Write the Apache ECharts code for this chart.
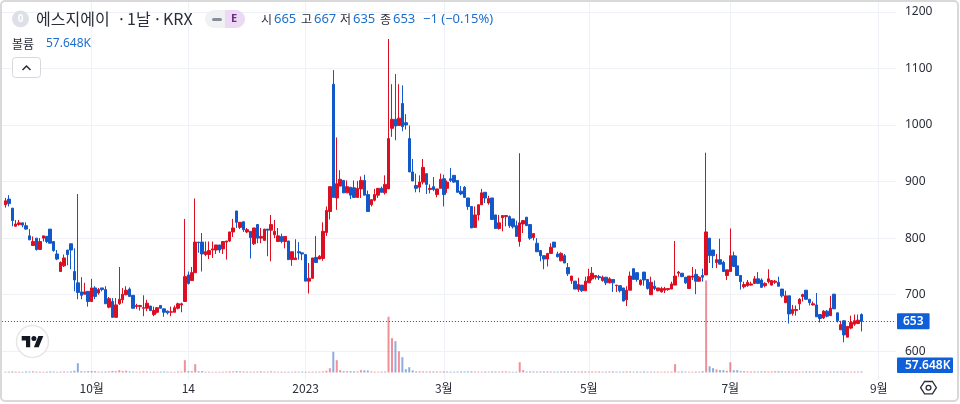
<!DOCTYPE html>
<html><head><meta charset="utf-8">
<style>html,body{margin:0;padding:0;background:#fff}#c{width:960px;height:404px}</style>
<script src="https://cdn.jsdelivr.net/npm/echarts@6/dist/echarts.min.js"></script>
</head><body><div id="c"></div>
<script>
const opens=[859,869,853,821,824,827,822,804,787,800,
780,800,803,816,794,772,741,751,779,790,
741,721,705,701,706,688,712,703,712,709,
678,688,660,684,691,700,710,699,679,679,
676,676,680,665,669,681,675,671,669,669,
676,682,688,735,725,739,793,793,771,771,
779,779,788,781,793,795,811,848,819,829,
811,812,790,824,800,796,816,814,806,794,
803,794,795,762,762,776,774,771,724,729,
766,763,764,810,847,1072,871,892,902,880,
890,889,872,887,902,877,859,867,876,888,
880,887,994,1010,999,1038,1004,976,917,893,
890,899,914,886,891,877,888,905,888,905,
911,902,883,890,871,856,819,841,859,881,
862,871,841,817,836,838,838,834,822,794,
825,837,824,801,791,778,769,763,773,793,
772,760,769,748,725,724,709,717,707,721,
728,731,732,725,731,721,727,716,716,712,
691,708,746,739,718,740,727,700,715,707,
705,708,709,710,717,738,738,731,711,731,
736,724,734,735,800,779,757,762,757,734,
741,769,751,734,714,716,717,720,728,726,
716,723,717,722,722,710,686,698,667,672,
684,697,708,692,682,682,665,659,671,663,
701,668,638,654,625,641,648,649,665];
const closes=[866,861,831,825,827,823,816,797,794,780,
794,804,794,791,778,763,757,765,771,779,
726,704,699,705,688,712,697,709,709,684,
693,660,682,692,701,708,697,676,681,681,
677,685,672,672,677,676,669,668,670,677,
684,684,732,720,739,793,792,772,776,778,
781,788,779,794,795,811,818,828,828,815,
815,801,818,800,803,816,814,824,812,804,
794,803,762,776,765,774,772,724,729,765,
757,768,812,849,891,872,896,904,880,891,
876,872,888,902,876,847,868,877,888,881,
895,976,1010,998,1012,997,1000,917,901,888,
899,925,895,888,886,887,904,877,899,902,
899,881,878,872,856,818,841,859,880,871,
870,833,817,827,840,840,822,820,803,827,
831,822,800,808,776,769,763,773,784,784,
767,773,756,737,733,710,718,707,724,732,
738,734,730,731,721,728,721,717,707,689,
708,733,727,727,726,726,711,722,711,712,
711,711,711,719,733,740,732,721,733,733,
724,731,731,811,769,769,762,754,741,744,
769,750,734,723,718,722,719,728,720,713,
720,728,725,724,715,698,698,666,674,674,
692,700,692,686,684,661,658,671,662,676,
675,654,647,629,644,651,654,655,653];
const highs=[871,876,853,832,832,827,828,816,803,800,
800,804,804,816,794,779,759,771,779,790,
782,878,731,721,706,728,715,712,712,715,
696,694,694,749,712,715,713,699,684,682,
699,691,680,679,678,681,676,672,679,681,
686,686,834,741,749,870,793,809,794,794,
794,788,788,794,795,811,834,848,828,829,
818,812,818,824,818,816,816,841,832,818,
808,803,795,776,798,793,774,771,756,765,
804,770,828,856,891,1097,978,920,902,902,
890,902,901,909,912,884,868,887,888,891,
911,1152,1072,1090,1072,1070,1019,999,940,914,
911,940,914,895,908,887,914,912,902,924,
911,902,892,892,871,856,856,859,887,881,
875,871,841,841,840,840,840,834,831,950,
831,837,824,808,800,779,769,773,791,793,
776,775,772,756,733,724,730,717,732,746,
749,734,735,734,731,731,727,717,716,712,
715,741,746,739,727,740,727,732,725,712,
714,714,711,723,795,742,738,731,733,749,
745,733,746,951,800,779,772,799,760,744,
817,776,769,734,723,726,723,733,740,729,
722,745,726,726,732,710,707,698,682,681,
694,702,708,692,688,703,665,673,673,698,
701,668,654,654,644,663,665,665,667];
const lows=[854,856,821,821,822,819,815,797,787,778,
780,794,791,791,776,761,741,749,752,745,
706,692,692,701,679,688,692,700,706,684,
676,660,660,682,685,699,697,676,675,672,
662,671,671,662,667,676,661,665,662,669,
674,669,688,718,725,739,774,741,768,763,
765,772,774,772,762,793,802,818,816,811,
809,764,788,791,791,796,768,759,800,794,
791,782,762,751,762,762,761,724,702,729,
757,763,760,804,833,872,850,892,880,880,
869,871,872,871,876,847,856,865,871,880,
877,887,979,973,999,989,992,917,901,881,
881,895,878,879,883,872,888,856,880,899,
898,881,876,872,850,818,819,831,859,862,
859,832,817,815,812,821,818,817,803,785,
809,822,797,796,776,759,745,750,773,784,
766,759,756,733,719,710,705,705,707,721,
725,727,726,723,717,720,705,705,704,688,
680,708,726,723,716,716,709,700,708,706,
704,703,707,710,717,732,731,719,711,726,
701,723,723,735,756,747,747,754,741,726,
741,750,734,709,711,714,716,719,720,713,
713,720,716,719,715,695,686,649,663,663,
673,688,691,681,681,661,651,657,660,663,
675,651,638,616,625,639,645,648,635];
const volumes=[40,45,60,50,45,40,55,50,65,45,
45,40,45,60,50,40,50,55,45,60,
100,525,70,60,75,80,70,50,45,55,
60,85,70,130,80,100,60,50,45,40,
65,60,40,45,40,50,55,45,40,40,
60,55,695,70,75,470,70,80,45,45,
40,40,40,45,50,60,60,75,65,55,
50,45,45,50,70,50,45,65,50,40,
45,40,45,40,55,45,50,40,45,50,
45,50,60,95,240,1170,695,130,75,70,
75,70,60,130,120,110,60,45,40,50,
55,3150,1940,1770,1200,865,185,300,115,65,
70,60,55,60,60,60,50,60,55,45,
45,50,60,55,60,65,55,50,45,55,
50,60,55,50,65,60,45,40,45,580,
130,55,60,60,50,55,60,60,55,50,
50,60,60,55,55,55,50,60,60,50,
60,50,55,45,45,55,60,50,45,50,
60,60,45,55,50,60,45,50,45,50,
40,50,45,50,470,50,60,50,45,45,
50,50,70,5200,355,245,170,130,130,95,
580,130,130,75,75,60,55,60,50,60,
65,55,60,70,70,60,55,60,50,50,
55,50,60,60,50,55,60,45,50,50,
55,60,50,55,50,45,55,50,57.648];
const tickSlots=[26,54,88,128,170,211,254];
const tickLabels=['10월','14','2023','3월','5월','7월','9월'];
const priceTicks=[600,1200];
const slotCount=260;

const UP='#dc0f22', DOWN='#1358c9', ACCENT='#0e5fd8', VALUE='#1e6fcc', INK='#2a2e39', GRID='#eef1f5';
const FONT='"Noto Sans CJK KR","Noto Sans",sans-serif';
const NUM='"Noto Sans","Noto Sans CJK KR",sans-serif';
const slots=Array.from({length:slotCount},(_,i)=>{const k=tickSlots.indexOf(i);return k<0?'':tickLabels[k];});
const blank=['-','-','-','-'];
const candles=[blank].concat(opens.map((o,i)=>[o,closes[i],lows[i],highs[i]]));
const bars=[null].concat(volumes.map((v,i)=>({value:v,itemStyle:{color:closes[i]>=opens[i]?'rgba(226,40,58,.52)':'rgba(28,92,190,.5)'}})));
const isTick=i=>tickSlots.indexOf(i)>=0;
const last=closes[closes.length-1];

const label=(text,x,y)=>({type:'text',z:50,style:{text,x,y,fill:INK,font:'12px '+FONT,textVerticalAlign:'middle'}});
const title=(text,x)=>({type:'text',z:50,style:{text,x,y:19,fill:INK,font:'16px '+FONT,textVerticalAlign:'middle'}});
const value=(text,x,y,size)=>({type:'text',z:50,style:{text,x,y,fill:VALUE,font:(size||13)+'px '+NUM,textVerticalAlign:'middle'}});
const graphic=[
 {type:'rect',z:60,shape:{x:1,y:1,width:957,height:400,r:4},style:{fill:'none',stroke:'#d9d9d9',lineWidth:2}},
 {type:'circle',z:50,shape:{cx:20.5,cy:19,r:8.5},style:{fill:'#dde0e7'}},
 {type:'text',z:51,style:{text:'0',x:20.5,y:19,fill:'#fff',font:'bold 10px '+NUM,textAlign:'center',textVerticalAlign:'middle'}},
 title('에스지에이',36), title('·',117), title('1날',127), title('·',153), title('KRX',163),
 {type:'rect',z:50,shape:{x:205,y:10,width:40,height:18,r:9},style:{fill:'#f0f1f3'}},
 {type:'rect',z:51,shape:{x:225,y:10,width:20,height:18,r:[0,9,9,0]},style:{fill:'#ecd9f3'}},
 {type:'rect',z:52,shape:{x:212,y:18,width:10,height:3,r:1.5},style:{fill:'#878e9a'}},
 {type:'text',z:52,style:{text:'E',x:234,y:19,fill:'#6f2a8e',font:'bold 11px '+NUM,textAlign:'center',textVerticalAlign:'middle'}},
 label('시',261,19), value('665',274,19),
 label('고',301,19), value('667',314,19),
 label('저',340,19), value('635',353,19),
 label('종',380,19), value('653',393,19),
 value('−1 (−0.15%)',423,19),
 label('볼륨',12,44), value('57.648K',46,44,12),
 {type:'rect',z:50,shape:{x:12.5,y:57.5,width:28,height:20,r:3},style:{fill:'#fff',stroke:'#d6d8de',lineWidth:1}},
 {type:'polyline',z:51,shape:{points:[[22.5,70],[26.5,66],[30.5,70]]},style:{fill:'none',stroke:INK,lineWidth:1.5}},
 {type:'circle',z:50,shape:{cx:32.5,cy:341.5,r:16},style:{fill:'#fff',stroke:'#e6e6e6',lineWidth:1.5}},
 {type:'polygon',z:51,shape:{points:[[21.7,336],[30.2,336],[30.2,347.3],[26,347.3],[26,340.4],[21.7,340.4]]},style:{fill:'#131722'}},
 {type:'polygon',z:51,shape:{points:[[38.4,336],[43.3,336],[38.7,347.3],[33.9,347.3]]},style:{fill:'#131722'}},
 {type:'circle',z:51,shape:{cx:33.9,cy:338.5,r:2.5},style:{fill:'#131722'}},
 {type:'rect',z:50,shape:{x:897,y:357.5,width:56,height:15.5,r:1},style:{fill:ACCENT}},
 {type:'text',z:51,style:{text:'57.648K',x:905,y:365.5,fill:'#fff',font:'600 12px '+NUM,textVerticalAlign:'middle'}},
 {type:'polygon',z:50,shape:{points:[[920.6,387.7],[924.6,381.5],[932.4,381.5],[936.4,387.7],[932.4,393.9],[924.6,393.9]]},style:{fill:'none',stroke:INK,lineWidth:1.3}},
 {type:'circle',z:50,shape:{cx:928.5,cy:387.7,r:2.4},style:{fill:'none',stroke:INK,lineWidth:1.3}}
];

const chart=echarts.init(document.getElementById('c'),null,{renderer:'canvas'});
chart.setOption({
 animation:false,backgroundColor:'#fff',graphic,
 grid:[
  {left:1.9,top:11.8,width:894.1,height:339.5,containLabel:false},
  {left:1.9,top:0,width:894.1,height:380,containLabel:false}
 ],
 xAxis:[
  {type:'category',gridIndex:0,data:slots,boundaryGap:false,show:false},
  {type:'category',gridIndex:1,data:slots,boundaryGap:false,
   axisLine:{show:false},axisTick:{show:false},
   axisLabel:{interval:(i)=>isTick(i),margin:2,color:INK,fontSize:12,fontFamily:FONT,hideOverlap:false},
   splitLine:{show:true,interval:(i)=>isTick(i),lineStyle:{color:GRID,width:1}}}
 ],
 yAxis:[
  {type:'value',gridIndex:0,position:'right',min:priceTicks[0],max:priceTicks[1],interval:100,
   axisLine:{show:false},axisTick:{show:false},
   axisLabel:{margin:9,color:INK,fontSize:12,fontFamily:NUM,padding:[2,0,0,0],formatter:(v)=>String(v)},
   splitLine:{show:true,lineStyle:{color:GRID,width:1}}},
  {type:'value',gridIndex:1,show:false,min:-424,max:21046,splitLine:{show:false}}
 ],
 series:[
  {type:'bar',xAxisIndex:1,yAxisIndex:1,data:bars,barWidth:2,z:2,large:false,silent:true},
  {type:'candlestick',xAxisIndex:0,yAxisIndex:0,data:candles,barWidth:3,clip:false,z:3,
   itemStyle:{color:UP,color0:DOWN,borderColor:UP,borderColor0:DOWN,borderWidth:1},
   markLine:{silent:true,symbol:'none',animation:false,data:[{yAxis:last}],
    lineStyle:{color:'#1a55ab',type:[1,2],width:1},
    label:{show:true,position:'end',distance:1,formatter:String(last),color:'#fff',backgroundColor:ACCENT,fontFamily:NUM,fontSize:12,fontWeight:600,padding:[2,6,2,6],borderRadius:1}}}
 ]
});
</script></body></html>
